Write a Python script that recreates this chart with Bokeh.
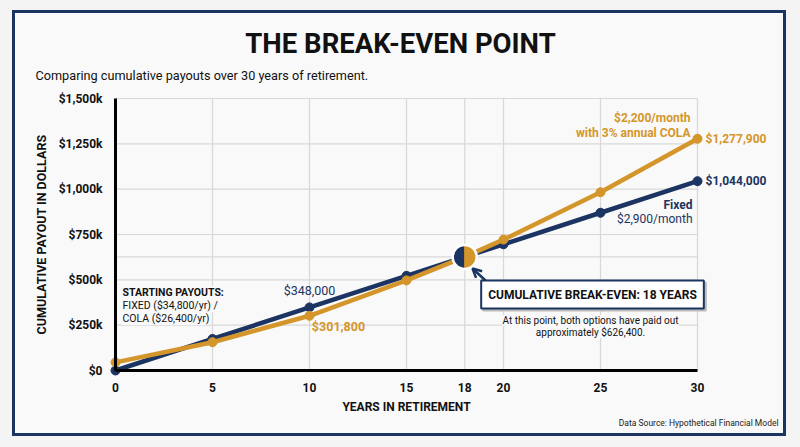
from math import pi
from bokeh.plotting import figure
from bokeh.models import Range1d, FixedTicker, Label, Arrow, OpenHead
from bokeh.embed import file_html
from bokeh.resources import INLINE

# ---------------- data ----------------
years = [0, 5, 10, 15, 18, 20, 25, 30]
fixed = [0, 174000, 348000, 522000, 626400, 696000, 870000, 1044000]
cola = [45000, 156000, 301800, 497000, 626400, 722000, 983000, 1277900]
x_ticks = [0, 5, 10, 15, 18, 20, 25, 30]
y_ticks = [0, 250000, 500000, 750000, 1000000, 1250000, 1500000]
y_tick_labels = ["$0", "$250k", "$500k", "$750k", "$1,000k", "$1,250k", "$1,500k"]
break_even_year = 18
break_even_value = 626400

NAVY = "#1b3461"
ORANGE = "#d4962b"
GRID = "#d8d8d8"
BG = "#f9f9f9"
FONT = "Roboto"

# layout constants (page pixels)
BORDER = 3
OX, OY = 15, 13            # canvas origin on the page (inside the border)
W, H = 774, 426            # figure size (border-box: visible canvas is W-6 x H-6)
FL, FB, FT = 115, 370, 98  # x=0, y=0, y=1.5M positions
PXU = 19.4                 # pixels per year
UX = 1.0 / PXU
UY = 1500000 / (FB - FT)
def X(px):
    return (px - FL) * UX
def Y(py):
    return (FB - py) * UY

p = figure(width=W, height=H, output_backend="svg", toolbar_location=None,
           x_range=Range1d(X(OX), X(OX + W)), y_range=Range1d(Y(OY + H), Y(OY)),
           min_border_left=0, min_border_right=0, min_border_top=0, min_border_bottom=0,
           background_fill_color=BG, border_fill_color=BG)
p.styles = {"margin-left": "%dpx" % (OX - BORDER), "margin-top": "%dpx" % (OY - BORDER),
            "border": "%dpx solid %s" % (BORDER, NAVY),
            "box-shadow": "0 0 0 14px #f4f4f4"}
p.title.visible = False
p.outline_line_color = None
p.xgrid.visible = False
p.ygrid.visible = False

# axes, pinned at the data origin
p.xaxis.fixed_location = 0
p.yaxis.fixed_location = 0
p.xaxis.ticker = FixedTicker(ticks=x_ticks)
p.yaxis.ticker = FixedTicker(ticks=y_ticks)
p.yaxis.major_label_overrides = {t: l for t, l in zip(y_ticks, y_tick_labels)}
p.xaxis.bounds = (0, 30)
p.yaxis.bounds = (0, 1500000)
for ax in (p.xaxis, p.yaxis):
    ax.axis_line_color = "black"
    ax.axis_line_width = 3
    ax.major_tick_line_color = None
    ax.minor_tick_line_color = None
    ax.major_label_text_font = FONT
    ax.major_label_text_font_style = "bold"
    ax.major_label_text_font_size = "12px"
    ax.major_label_text_color = "#111111"
    ax.axis_label_text_font = FONT
    ax.axis_label_text_font_style = "bold"
    ax.axis_label_text_color = "#111111"
p.xaxis.major_label_standoff = 6
p.yaxis.major_label_standoff = 7
p.xaxis.axis_label = "YEARS IN RETIREMENT"
p.xaxis.axis_label_text_font_size = "12px"
p.xaxis.axis_label_standoff = 5
p.yaxis.axis_label = "CUMULATIVE PAYOUT IN DOLLARS"
p.yaxis.axis_label_text_font_size = "12.5px"
p.yaxis.axis_label_standoff = 7

# grid lines (limited to the data area)
h_lines = y_ticks[1:] + [break_even_value]
p.segment(x0=[0] * len(h_lines), y0=h_lines, x1=[30] * len(h_lines), y1=h_lines,
          line_color=GRID, line_width=1.2)
v_lines = x_ticks[1:]
p.segment(x0=v_lines, y0=[0] * len(v_lines), x1=v_lines, y1=[1500000] * len(v_lines),
          line_color=GRID, line_width=1.2)

# lines
p.line(years, fixed, line_color=NAVY, line_width=4.5)
p.scatter(years, fixed, size=9, color=NAVY)
p.line(years, cola, line_color=ORANGE, line_width=4.5)
p.scatter(years, cola, size=9, color=ORANGE)

# break-even marker
p.wedge(x=[break_even_year], y=[break_even_value], radius=11, radius_units="screen",
        start_angle=pi / 2, end_angle=3 * pi / 2, color=NAVY)
p.wedge(x=[break_even_year], y=[break_even_value], radius=11, radius_units="screen",
        start_angle=-pi / 2, end_angle=pi / 2, color=ORANGE)
p.scatter(x=[break_even_year], y=[break_even_value], size=24, fill_color=None,
          line_color="white", line_width=2.5)

def lab(x, y, text, size, color="#111111", bold=False, align="left", baseline="middle", **kw):
    l = Label(x=x, y=y, text=text, text_font=FONT, text_font_size=size,
              text_color=color, text_font_style="bold" if bold else "normal",
              text_align=align, text_baseline=baseline, **kw)
    p.add_layout(l)
    return l

# titles
lab(X(400), Y(43), "THE BREAK-EVEN POINT", "27.5px", bold=True, align="center")
lab(X(35), Y(75), "Comparing cumulative payouts over 30 years of retirement.", "12.7px")
lab(X(778), Y(422), "Data Source: Hypothetical Financial Model", "8.5px", color="#222222",
    align="right")

# value labels
lab(years[2], fixed[2] + 17 * UY, "$348,000", "12.5px", color=NAVY, align="center")
lab(years[2] + 29 * UX, cola[2] - 11 * UY, "$301,800", "12.5px", color=ORANGE, bold=True, align="center")
lab(years[-1] + 8 * UX, cola[-1], "$1,277,900", "12px", color=ORANGE, bold=True)
lab(years[-1] + 8 * UX, fixed[-1], "$1,044,000", "12px", color=NAVY, bold=True)

# series labels
lab(X(690), Y(117), "$2,200/month", "12px", color=ORANGE, bold=True, align="right")
lab(X(690), Y(132), "with 3% annual COLA", "12px", color=ORANGE, bold=True, align="right")
lab(X(692), Y(204), "Fixed", "12px", color=NAVY, bold=True, align="right")
lab(X(692), Y(218), "$2,900/month", "12px", color=NAVY, align="right")

# starting payouts note
lab(X(122), Y(292), "STARTING PAYOUTS:", "10.5px", bold=True, background_fill_color=BG)
lab(X(122), Y(305), "FIXED ($34,800/yr) /", "10.5px", background_fill_color=BG)
lab(X(122), Y(318), "COLA ($26,400/yr)", "10.5px", background_fill_color=BG)

# break-even callout
lab(X(594), Y(296), "CUMULATIVE BREAK-EVEN: 18 YEARS", "12px", color="#bbbbbb", bold=True,
    align="center", background_fill_color="#bbbbbb", border_line_color="#bbbbbb",
    border_line_width=2, padding=7)
lab(X(592), Y(294), "CUMULATIVE BREAK-EVEN: 18 YEARS", "12px", bold=True, align="center",
    background_fill_color="white", border_line_color=NAVY, border_line_width=2, padding=7)
lab(X(590), Y(320), "At this point, both options have paid out", "10px", align="center",
    background_fill_color=BG)
lab(X(590), Y(332), "approximately $626,400.", "10px", align="center", background_fill_color=BG)

p.add_layout(Arrow(x_start=X(485), y_start=Y(280), x_end=X(472), y_end=Y(268),
                   line_color=NAVY, line_width=2.5,
                   end=OpenHead(size=9, line_color=NAVY, line_width=2.5)))

open("out.html", "w").write(file_html(p, INLINE))
